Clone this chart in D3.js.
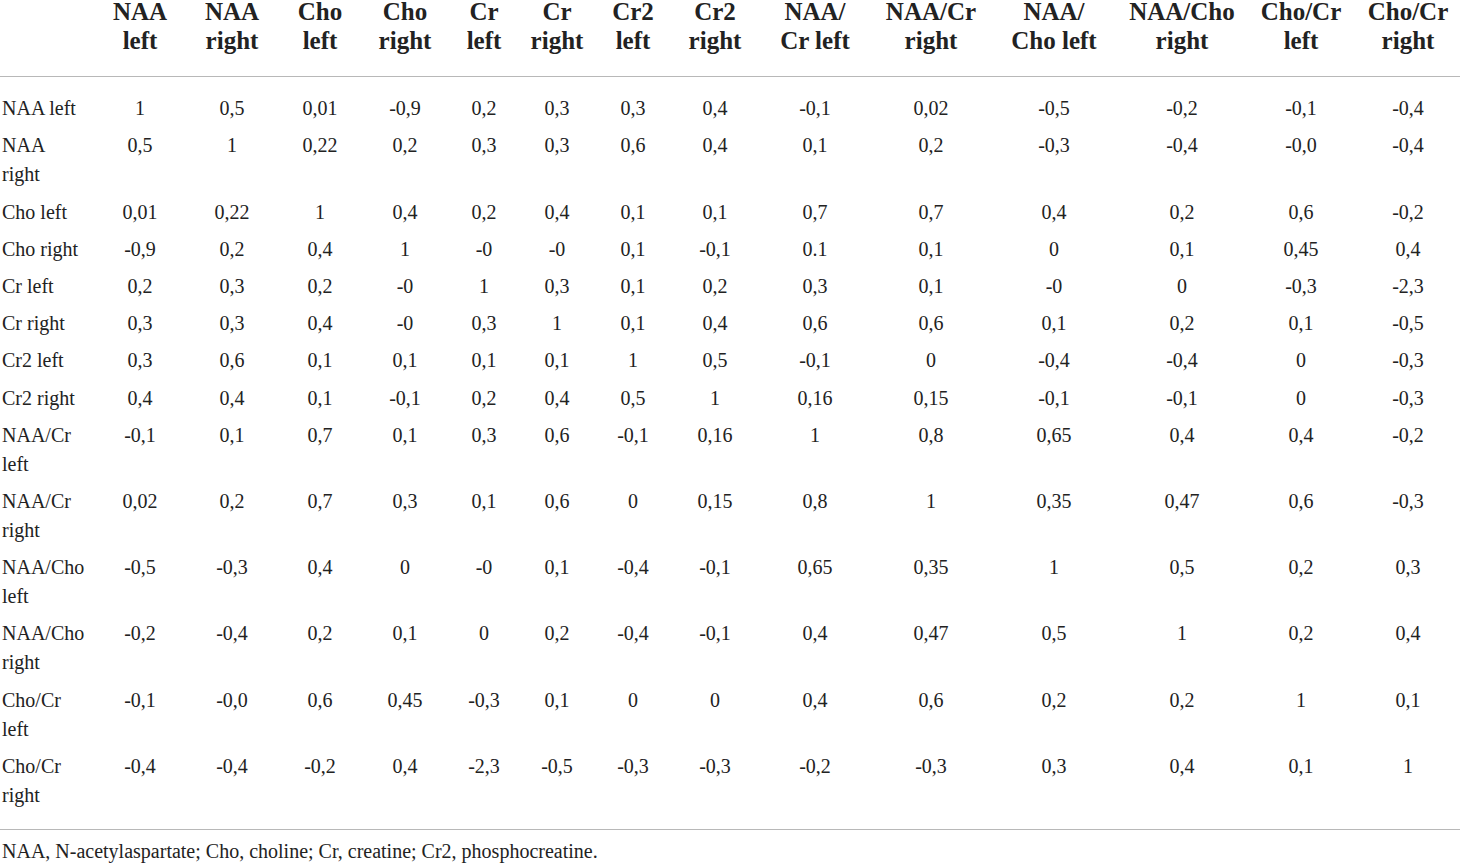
<!DOCTYPE html>
<html>
<head>
<meta charset="utf-8">
<script src="https://cdn.jsdelivr.net/npm/d3@7"></script>
<style>
  body { margin: 0; background: #fff; }
  #wrap { position: relative; top: -3px; font-family: 'Liberation Serif', 'Times New Roman', serif; color: #222; }
  table { border-collapse: collapse; width: 1460px; table-layout: fixed; }
  th { font-weight: bold; font-size: 25px; line-height: 29px; padding: 0 2px 21px; text-align: center; vertical-align: bottom; border-bottom: 1.5px solid #b8b8b8; }
  th:first-child { text-align: left; padding-left: 2px; }
  td { font-size: 20px; line-height: 29px; padding: 4.1px 2px; text-align: center; vertical-align: top; white-space: nowrap; }
  td.label { text-align: left; white-space: normal; padding-left: 2px; padding-right: 8px; }
  tbody tr:first-child td { padding-top: 17.3px; }
  tbody tr:last-child td { padding-bottom: 19px; border-bottom: 1.5px solid #b8b8b8; }
  .note { font-size: 20px; line-height: 29px; margin-top: 7px; padding-left: 2px; }
</style>
</head>
<body>
<div id="wrap"></div>
<script>
// column headers, each split into its printed lines
const colHeaders = [
  ['NAA', 'left'], ['NAA', 'right'], ['Cho', 'left'], ['Cho', 'right'],
  ['Cr', 'left'], ['Cr', 'right'], ['Cr2', 'left'], ['Cr2', 'right'],
  ['NAA/', 'Cr left'], ['NAA/Cr', 'right'], ['NAA/', 'Cho left'], ['NAA/Cho', 'right'],
  ['Cho/Cr', 'left'], ['Cho/Cr', 'right']
]

const rowLabels = [
  'NAA left', 'NAA right', 'Cho left', 'Cho right', 'Cr left', 'Cr right',
  'Cr2 left', 'Cr2 right', 'NAA/Cr left', 'NAA/Cr right', 'NAA/Cho left',
  'NAA/Cho right', 'Cho/Cr left', 'Cho/Cr right'
]

// correlation values, kept as printed (decimal commas, "-0" etc.)
const naaLeft = ['1', '0,5', '0,01', '-0,9', '0,2', '0,3', '0,3', '0,4', '-0,1', '0,02', '-0,5', '-0,2', '-0,1', '-0,4']
const naaRight = ['0,5', '1', '0,22', '0,2', '0,3', '0,3', '0,6', '0,4', '0,1', '0,2', '-0,3', '-0,4', '-0,0', '-0,4']
const choLeft = ['0,01', '0,22', '1', '0,4', '0,2', '0,4', '0,1', '0,1', '0,7', '0,7', '0,4', '0,2', '0,6', '-0,2']
const choRight = ['-0,9', '0,2', '0,4', '1', '-0', '-0', '0,1', '-0,1', '0.1', '0,1', '0', '0,1', '0,45', '0,4']
const crLeft = ['0,2', '0,3', '0,2', '-0', '1', '0,3', '0,1', '0,2', '0,3', '0,1', '-0', '0', '-0,3', '-2,3']
const crRight = ['0,3', '0,3', '0,4', '-0', '0,3', '1', '0,1', '0,4', '0,6', '0,6', '0,1', '0,2', '0,1', '-0,5']
const cr2Left = ['0,3', '0,6', '0,1', '0,1', '0,1', '0,1', '1', '0,5', '-0,1', '0', '-0,4', '-0,4', '0', '-0,3']
const cr2Right = ['0,4', '0,4', '0,1', '-0,1', '0,2', '0,4', '0,5', '1', '0,16', '0,15', '-0,1', '-0,1', '0', '-0,3']
const naaCrLeft = ['-0,1', '0,1', '0,7', '0,1', '0,3', '0,6', '-0,1', '0,16', '1', '0,8', '0,65', '0,4', '0,4', '-0,2']
const naaCrRight = ['0,02', '0,2', '0,7', '0,3', '0,1', '0,6', '0', '0,15', '0,8', '1', '0,35', '0,47', '0,6', '-0,3']
const naaChoLeft = ['-0,5', '-0,3', '0,4', '0', '-0', '0,1', '-0,4', '-0,1', '0,65', '0,35', '1', '0,5', '0,2', '0,3']
const naaChoRight = ['-0,2', '-0,4', '0,2', '0,1', '0', '0,2', '-0,4', '-0,1', '0,4', '0,47', '0,5', '1', '0,2', '0,4']
const choCrLeft = ['-0,1', '-0,0', '0,6', '0,45', '-0,3', '0,1', '0', '0', '0,4', '0,6', '0,2', '0,2', '1', '0,1']
const choCrRight = ['-0,4', '-0,4', '-0,2', '0,4', '-2,3', '-0,5', '-0,3', '-0,3', '-0,2', '-0,3', '0,3', '0,4', '0,1', '1']

const footnote = 'NAA, N-acetylaspartate; Cho, choline; Cr, creatine; Cr2, phosphocreatine.'

const rows = [naaLeft, naaRight, choLeft, choRight, crLeft, crRight, cr2Left, cr2Right,
  naaCrLeft, naaCrRight, naaChoLeft, naaChoRight, choCrLeft, choCrRight]

// column widths in px (label column first), as the printed table laid them out
const colWidths = [94, 92, 92, 84, 86, 72, 74, 78, 86, 114, 118, 128, 128, 110, 104]

const wrap = d3.select('#wrap')
const table = wrap.append('table')

table.append('colgroup')
  .selectAll('col')
  .data(colWidths)
  .join('col')
  .style('width', d => d + 'px')

// header row
const headRow = table.append('thead').append('tr')
headRow.append('th')
headRow.selectAll('th.col')
  .data(colHeaders)
  .join('th')
  .attr('class', 'col')
  .html(d => d.join('<br>'))

// body rows
const bodyRows = table.append('tbody')
  .selectAll('tr')
  .data(rows)
  .join('tr')

bodyRows.append('td')
  .attr('class', 'label')
  .text((d, i) => rowLabels[i])

bodyRows.selectAll('td.val')
  .data(d => d)
  .join('td')
  .attr('class', 'val')
  .text(d => d)

wrap.append('div')
  .attr('class', 'note')
  .text(footnote)
</script>
</body>
</html>
